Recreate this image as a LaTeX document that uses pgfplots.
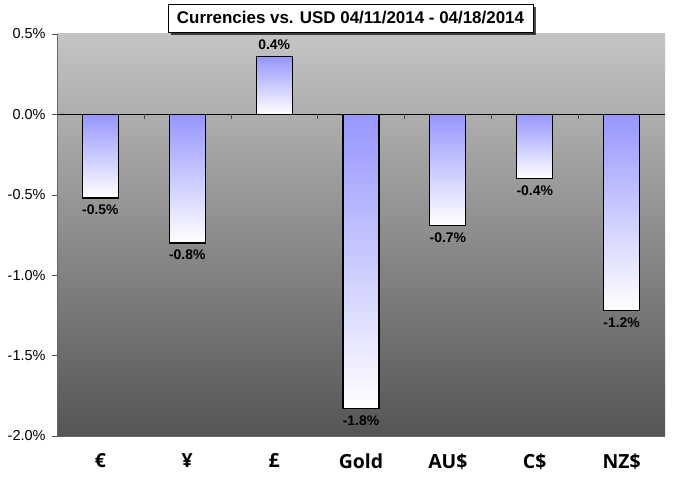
\documentclass[border=0pt]{standalone}
\usepackage{pgfplots}
\pgfplotsset{compat=1.18}
\usepackage{fontspec}
\setmainfont{Liberation Sans}
\newfontfamily\xfont{Open Sans}
\usetikzlibrary{shadows}
\definecolor{bgtop}{RGB}{196,196,196}
\definecolor{bgbot}{RGB}{85,85,85}
\definecolor{barblue}{RGB}{150,150,255}
\pgfplotsset{mybar/.style={draw=black, line width=1.1bp, top color=barblue, bottom color=white, bar shift=0pt}}
\begin{document}
\begin{tikzpicture}[x=1bp,y=1bp]
\useasboundingbox (0,0) rectangle (680,486);
\begin{axis}[at={(57bp,50bp)}, anchor=south west, scale only axis,
 width=608bp, height=402bp,
 xmin=-0.5, xmax=6.5, ymin=-2, ymax=0.5,
 axis background/.style={top color=bgtop, bottom color=bgbot},
 axis lines*=left, axis line style={-, draw=black!60},
 ytick={-2,-1.5,-1,-0.5,0,0.5},
 yticklabels={-2.0\%,-1.5\%,-1.0\%,-0.5\%,0.0\%,0.5\%},
 tick align=outside, major tick length=5bp,
 y tick style={black!70},
 xtick={0,1,2,3,4,5,6},
 xticklabels={€,¥,£,Gold,AU\$,C\$,NZ\$},
 x tick style={draw=none},
 xticklabel style={font=\xfont\bfseries\fontsize{19.5}{22}\selectfont, yshift=-9bp},
 yticklabel style={font=\fontsize{14.5}{17}\selectfont, xshift=-3bp},
 ybar, bar width=36bp,
 nodes near coords={\pgfmathprintnumber[fixed,precision=1,fixed zerofill,assume math mode=true]{\pgfplotspointmeta}\%},
 nodes near coords style={font=\bfseries\fontsize{14}{16}\selectfont, black, inner sep=6.5bp},
 clip=false,
]
\draw[black, line width=0.8bp] (axis cs:-0.5,0) -- (axis cs:6.5,0);
\draw[black!70] (axis cs:0.5,0) -- ([yshift=-5bp]axis cs:0.5,0);
\draw[black!70] (axis cs:1.5,0) -- ([yshift=-5bp]axis cs:1.5,0);
\draw[black!70] (axis cs:2.5,0) -- ([yshift=-5bp]axis cs:2.5,0);
\draw[black!70] (axis cs:3.5,0) -- ([yshift=-5bp]axis cs:3.5,0);
\draw[black!70] (axis cs:4.5,0) -- ([yshift=-5bp]axis cs:4.5,0);
\draw[black!70] (axis cs:5.5,0) -- ([yshift=-5bp]axis cs:5.5,0);
\addplot[mybar] coordinates {(0,-0.52)};
\addplot[mybar] coordinates {(1,-0.80)};
\addplot[mybar] coordinates {(2,0.36)};
\addplot[mybar] coordinates {(3,-1.83)};
\addplot[mybar] coordinates {(4,-0.69)};
\addplot[mybar] coordinates {(5,-0.40)};
\addplot[mybar] coordinates {(6,-1.22)};
\end{axis}
\node[draw=black, fill=white, line width=0.8bp, minimum width=365bp, minimum height=28bp,
 inner sep=0pt, font=\bfseries\fontsize{17}{20}\selectfont,
 drop shadow={shadow xshift=3bp, shadow yshift=-3bp, fill=black, opacity=0.7}]
 at (350.5,468) {Currencies vs. USD 04/11/2014 - 04/18/2014};
\end{tikzpicture}
\end{document}
